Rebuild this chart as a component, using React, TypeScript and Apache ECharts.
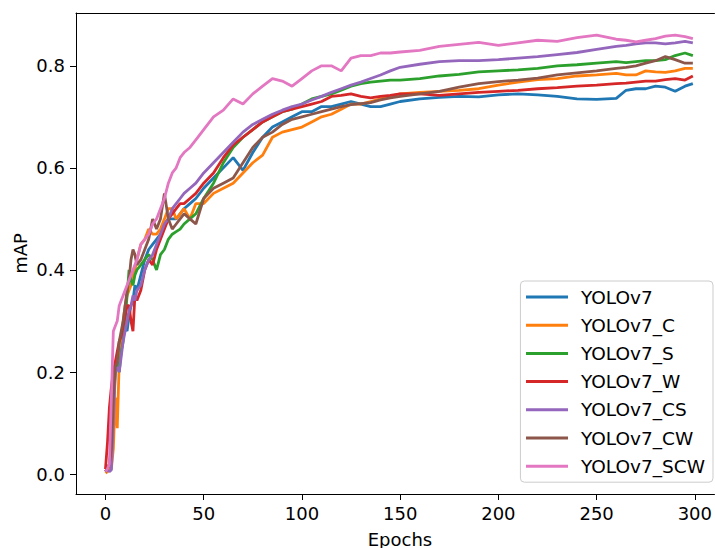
import React, { useEffect, useRef } from "react";
import * as echarts from "echarts";

const epochs = [0,1,2,3,4,5,6,7,8,9,10,11,12,13,14,15,16,18,20,22,24,26,28,30,32,34,36,38,40,43,46,50,55,60,65,70,75,80,85,90,95,100,105,110,115,120,125,130,135,140,145,150,160,170,180,190,200,210,220,230,240,250,260,265,270,275,280,285,290,295,299];

const yolov7 = [0.005,0.01,0.01,0.02,0.12,0.2,0.22,0.25,0.27,0.28,0.29,0.28,0.31,0.33,0.34,0.37,0.36,0.39,0.42,0.44,0.45,0.46,0.47,0.49,0.5,0.5,0.5,0.51,0.52,0.53,0.54,0.56,0.58,0.6,0.62,0.595,0.63,0.66,0.68,0.69,0.7,0.71,0.71,0.72,0.72,0.725,0.73,0.725,0.72,0.72,0.725,0.73,0.735,0.738,0.74,0.739,0.743,0.745,0.743,0.74,0.735,0.734,0.736,0.752,0.755,0.755,0.76,0.758,0.75,0.76,0.765];
const yolov7C = [0.002,0.005,0.01,0.01,0.05,0.15,0.09,0.22,0.25,0.3,0.33,0.35,0.36,0.37,0.39,0.4,0.42,0.45,0.46,0.48,0.47,0.47,0.48,0.5,0.52,0.52,0.5,0.51,0.52,0.5,0.53,0.53,0.55,0.56,0.57,0.59,0.61,0.625,0.66,0.67,0.675,0.68,0.69,0.7,0.705,0.715,0.725,0.725,0.73,0.735,0.74,0.745,0.748,0.75,0.752,0.755,0.762,0.768,0.773,0.775,0.78,0.782,0.785,0.782,0.782,0.79,0.788,0.787,0.79,0.795,0.795];
const yolov7S = [0.005,0.01,0.02,0.05,0.15,0.2,0.22,0.2,0.24,0.26,0.3,0.35,0.4,0.38,0.37,0.39,0.4,0.41,0.42,0.43,0.42,0.4,0.43,0.44,0.46,0.47,0.475,0.48,0.49,0.5,0.51,0.54,0.57,0.61,0.64,0.66,0.675,0.69,0.7,0.71,0.715,0.725,0.735,0.74,0.745,0.752,0.76,0.765,0.768,0.77,0.772,0.772,0.775,0.78,0.783,0.788,0.79,0.792,0.795,0.8,0.802,0.805,0.808,0.806,0.808,0.81,0.81,0.812,0.82,0.825,0.82];
const yolov7W = [0.01,0.06,0.13,0.17,0.2,0.22,0.24,0.26,0.27,0.29,0.31,0.33,0.33,0.3,0.28,0.35,0.34,0.36,0.4,0.42,0.41,0.44,0.46,0.48,0.5,0.51,0.52,0.53,0.53,0.54,0.55,0.57,0.59,0.62,0.645,0.66,0.675,0.69,0.7,0.71,0.715,0.72,0.725,0.73,0.74,0.742,0.745,0.74,0.737,0.74,0.742,0.745,0.745,0.742,0.745,0.748,0.75,0.752,0.755,0.757,0.76,0.762,0.765,0.766,0.768,0.77,0.77,0.773,0.775,0.772,0.78];
const yolov7CS = [0.005,0.01,0.005,0.008,0.1,0.2,0.21,0.2,0.23,0.26,0.28,0.3,0.32,0.33,0.35,0.34,0.36,0.37,0.4,0.42,0.43,0.45,0.47,0.49,0.5,0.52,0.53,0.54,0.55,0.56,0.57,0.59,0.61,0.63,0.65,0.67,0.685,0.695,0.705,0.713,0.72,0.725,0.733,0.74,0.748,0.755,0.762,0.768,0.775,0.782,0.79,0.797,0.803,0.808,0.81,0.81,0.812,0.815,0.818,0.822,0.826,0.832,0.838,0.84,0.843,0.845,0.845,0.843,0.845,0.848,0.845];
const yolov7CW = [0.005,0.01,0.02,0.05,0.15,0.21,0.22,0.26,0.28,0.3,0.33,0.36,0.38,0.42,0.44,0.43,0.41,0.42,0.44,0.46,0.5,0.48,0.5,0.55,0.5,0.48,0.49,0.5,0.51,0.5,0.49,0.54,0.56,0.57,0.58,0.61,0.64,0.66,0.67,0.685,0.695,0.7,0.705,0.71,0.715,0.72,0.724,0.726,0.728,0.733,0.737,0.74,0.745,0.75,0.758,0.765,0.769,0.772,0.776,0.782,0.786,0.79,0.795,0.797,0.8,0.805,0.81,0.818,0.812,0.805,0.805];
const yolov7SCW = [0.005,0.01,0.02,0.15,0.28,0.29,0.3,0.33,0.34,0.35,0.36,0.37,0.38,0.39,0.4,0.41,0.42,0.45,0.46,0.47,0.49,0.5,0.52,0.54,0.57,0.59,0.6,0.62,0.63,0.64,0.655,0.675,0.7,0.713,0.735,0.725,0.745,0.76,0.775,0.77,0.76,0.775,0.79,0.8,0.8,0.79,0.815,0.82,0.82,0.825,0.825,0.827,0.83,0.838,0.842,0.846,0.84,0.845,0.85,0.848,0.855,0.86,0.852,0.85,0.847,0.85,0.853,0.858,0.86,0.857,0.853];

const seriesNames = ["YOLOv7","YOLOv7_C","YOLOv7_S","YOLOv7_W","YOLOv7_CS","YOLOv7_CW","YOLOv7_SCW"];
const seriesValues = [yolov7, yolov7C, yolov7S, yolov7W, yolov7CS, yolov7CW, yolov7SCW];
const colors = ["#1f77b4","#ff7f0e","#2ca02c","#d62728","#9467bd","#8c564b","#e377c2"];
const xTicks = [0,50,100,150,200,250,300];
const yTicks = [0,0.2,0.4,0.6,0.8];

const FONT = "DejaVu Sans";

export default function App() {
  const ref = useRef<HTMLDivElement>(null);
  useEffect(() => {
    if (!ref.current) return;
    const chart = echarts.init(ref.current, null, { renderer: "svg" });
    const axisLine = { show: true, onZero: false, lineStyle: { color: "#000", width: 1 } };
    chart.setOption({
      animation: false,
      backgroundColor: "#fff",
      color: colors,
      grid: { left: 76, right: 0, top: 13, bottom: 54, containLabel: false },
      xAxis: [
        {
          type: "value", min: -15, max: 310, position: "bottom",
          axisLine,
          axisTick: { show: true, length: 6, customValues: xTicks, lineStyle: { color: "#000" } },
          axisLabel: { customValues: xTicks, margin: 10, fontSize: 18, fontFamily: FONT, color: "#000" },
          splitLine: { show: false },
        },
        {
          type: "value", min: -15, max: 310, position: "top",
          axisLine,
          axisTick: { show: false }, axisLabel: { show: false }, splitLine: { show: false },
        },
      ],
      yAxis: {
        type: "value", min: -0.039, max: 0.9034,
        axisLine,
        axisTick: { show: true, length: 6, customValues: yTicks, lineStyle: { color: "#000" } },
        axisLabel: { customValues: yTicks, margin: 11, fontSize: 18, fontFamily: FONT, color: "#000", formatter: (v: number) => v.toFixed(1) },
        splitLine: { show: false },
      },
      legend: {
        orient: "vertical", right: 2, top: 281,
        icon: "rect", itemWidth: 42, itemHeight: 3, itemGap: 8.2,
        padding: [6, 8, 6, 5.6],
        borderColor: "#cccccc", borderWidth: 1, borderRadius: 4,
        backgroundColor: "rgba(255,255,255,0.8)",
        textStyle: { fontSize: 18.5, fontFamily: FONT, color: "#000", lineHeight: 20, padding: [0, 0, 0, 8] },
        data: seriesNames,
      },
      graphic: [
        { type: "text", x: 400, y: 539, style: { text: "Epochs", fontSize: 18, fontFamily: FONT, fill: "#000", align: "center", verticalAlign: "middle" } },
        { type: "text", x: 20, y: 253.5, rotation: Math.PI / 2, style: { text: "mAP", fontSize: 18, fontFamily: FONT, fill: "#000", align: "center", verticalAlign: "middle" } },
      ],
      series: seriesNames.map((name, i) => ({
        name, type: "line", xAxisIndex: 0, showSymbol: false, symbol: "none",
        lineStyle: { width: 2.8, color: colors[i] },
        itemStyle: { color: colors[i] },
        data: epochs.map((e, j) => [e, seriesValues[i][j]]),
      })),
    });
    return () => chart.dispose();
  }, []);
  return <div ref={ref} style={{ position: "absolute", left: 0, top: 0, width: 715, height: 548 }} />;
}
